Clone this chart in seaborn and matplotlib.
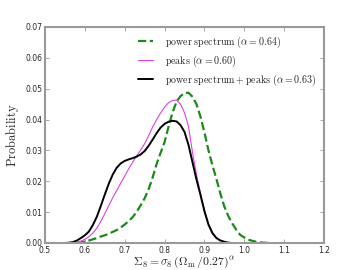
import matplotlib
matplotlib.use('Agg')
import matplotlib.pyplot as plt
import seaborn as sns

# power spectrum (dashed green)
ps_x = [0.58, 0.59, 0.60, 0.61, 0.62, 0.63, 0.64, 0.65, 0.66, 0.67, 0.68, 0.69,
        0.70, 0.71, 0.72, 0.73, 0.74, 0.75, 0.76, 0.77, 0.78, 0.79, 0.80, 0.81,
        0.82, 0.83, 0.84, 0.85, 0.86, 0.87, 0.88, 0.89, 0.90, 0.91, 0.92, 0.93,
        0.94, 0.95, 0.96, 0.97, 0.98, 0.99, 1.00, 1.01, 1.02, 1.03, 1.04, 1.05,
        1.06]
ps_y = [0.0, 0.0002, 0.0005, 0.0008, 0.0012, 0.0016, 0.0021, 0.0025, 0.0030,
        0.0036, 0.0042, 0.0050, 0.0060, 0.0071, 0.0084, 0.0101, 0.0122, 0.0145,
        0.0174, 0.0212, 0.0256, 0.0292, 0.0327, 0.0377, 0.0423, 0.0458, 0.0476,
        0.0486, 0.0487, 0.0474, 0.0450, 0.0410, 0.0358, 0.0301, 0.0252, 0.0208,
        0.0160, 0.0118, 0.0087, 0.0063, 0.0043, 0.0026, 0.0018, 0.0011, 0.0007,
        0.0004, 0.0002, 0.0001, 0.0]

# peaks (magenta)
pk_x = [0.57, 0.58, 0.59, 0.60, 0.61, 0.62, 0.63, 0.64, 0.65, 0.66, 0.67, 0.68,
        0.69, 0.70, 0.71, 0.72, 0.73, 0.74, 0.75, 0.76, 0.77, 0.78, 0.79, 0.80,
        0.81, 0.82, 0.83, 0.84, 0.85, 0.86, 0.87, 0.88, 0.89, 0.90, 0.91, 0.92,
        0.93, 0.94, 0.95, 0.96, 0.97]
pk_y = [0.0, 0.0002, 0.0006, 0.0012, 0.0020, 0.0032, 0.0048, 0.0070, 0.0095,
        0.0121, 0.0147, 0.0170, 0.0194, 0.0217, 0.0240, 0.0262, 0.0282, 0.0302,
        0.0322, 0.0348, 0.0376, 0.0400, 0.0421, 0.0440, 0.0455, 0.0462, 0.0463,
        0.0450, 0.0422, 0.0378, 0.0294, 0.0222, 0.0162, 0.0108, 0.0064, 0.0035,
        0.0018, 0.0009, 0.0004, 0.0001, 0.0]

# power spectrum + peaks (black)
both_x = [0.55, 0.56, 0.57, 0.58, 0.59, 0.60, 0.61, 0.62, 0.63, 0.64, 0.65,
          0.66, 0.67, 0.68, 0.69, 0.70, 0.71, 0.72, 0.73, 0.74, 0.75, 0.76,
          0.77, 0.78, 0.79, 0.80, 0.81, 0.82, 0.83, 0.84, 0.85, 0.86, 0.87,
          0.88, 0.89, 0.90, 0.91, 0.92, 0.93, 0.94, 0.95, 0.96, 0.97]
both_y = [0.0, 0.0001, 0.0003, 0.0008, 0.0016, 0.0025, 0.0037, 0.0058, 0.0085,
          0.0120, 0.0157, 0.0192, 0.0222, 0.0244, 0.0258, 0.0266, 0.0271, 0.0275,
          0.0280, 0.0287, 0.0298, 0.0315, 0.0335, 0.0356, 0.0374, 0.0386, 0.0393,
          0.0396, 0.0394, 0.0382, 0.0360, 0.0318, 0.0262, 0.0206, 0.0156, 0.0103,
          0.0060, 0.0032, 0.0016, 0.0008, 0.0004, 0.0001, 0.0]

labels = [r'$\mathrm{power\ spectrum}\ (\alpha=0.64)$',
          r'$\mathrm{peaks}\ (\alpha=0.60)$',
          r'$\mathrm{power\ spectrum+peaks}\ (\alpha=0.63)$']

sns.set_style('ticks')
plt.rcParams['mathtext.fontset'] = 'cm'
plt.rcParams['font.family'] = ['DejaVu Sans']

fig = plt.figure(figsize=(3.6, 2.7), dpi=100)
ax = fig.add_axes([0.125, 0.1, 0.775, 0.8])

sns.lineplot(x=ps_x, y=ps_y, ax=ax, color='#1a8a1a', linestyle='--',
             linewidth=1.6, label=labels[0])
sns.lineplot(x=pk_x, y=pk_y, ax=ax, color='#e040e0', linewidth=0.8,
             label=labels[1])
sns.lineplot(x=both_x, y=both_y, ax=ax, color='black', linewidth=1.4,
             label=labels[2])

ax.set_xlim(0.5, 1.2)
ax.set_ylim(0, 0.07)
ax.set_xticks([0.5, 0.6, 0.7, 0.8, 0.9, 1.0, 1.1, 1.2])
ax.set_yticks([0.0, 0.01, 0.02, 0.03, 0.04, 0.05, 0.06, 0.07])
ax.set_xticklabels(['0.5', '0.6', '0.7', '0.8', '0.9', '1.0', '1.1', '1.2'])
ax.set_yticklabels(['0.00', '0.01', '0.02', '0.03', '0.04', '0.05', '0.06', '0.07'])
ax.tick_params(direction='in', top=True, right=True, length=3, width=0.6,
               color='#999999', labelsize=5.5, pad=2)
for s in ax.spines.values():
    s.set_color('#999999')
    s.set_linewidth(1.5)

ax.set_xlabel(r'$\Sigma_8=\sigma_8\,(\Omega_\mathrm{m}\,/0.27)^\alpha$', fontsize=8.5, labelpad=0)
ax.set_ylabel(r'$\mathrm{Probability}$', fontsize=9, labelpad=3)

leg = ax.legend(loc='upper right', frameon=False, fontsize=7.2, handlelength=1.5,
                borderaxespad=0.35, labelspacing=0.35, handletextpad=1.2)

fig.savefig('out.png', dpi=100)
